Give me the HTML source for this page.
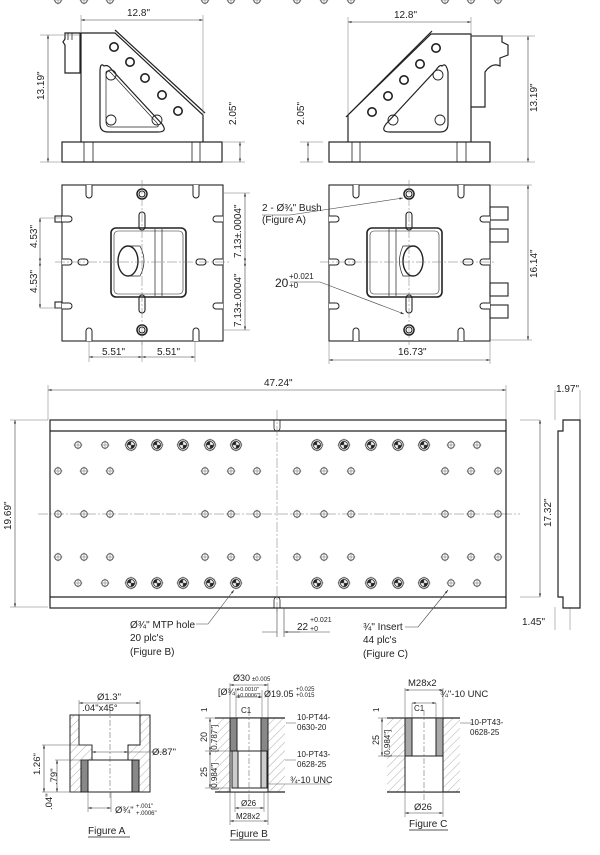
<!DOCTYPE html>
<html><head><meta charset="utf-8"><style>
html,body{margin:0;padding:0;background:#fff}
svg{display:block}
text{font-family:"Liberation Sans",Arial,sans-serif;fill:#222}
</style></head><body>
<svg width="600" height="855" viewBox="0 0 600 855" xmlns="http://www.w3.org/2000/svg">
<defs>
<marker id="a" viewBox="0 0 10 10" refX="10" refY="5" markerWidth="6" markerHeight="6" orient="auto-start-reverse"><path d="M0,2 L10,5 L0,8z" fill="#333"/></marker>
<pattern id="h" width="6" height="6" patternUnits="userSpaceOnUse" patternTransform="rotate(45)"><line x1="0" y1="0" x2="0" y2="6" stroke="#999" stroke-width="0.8"/></pattern>
<g id="sh"><circle r="3.3" fill="#fff" stroke="#444" stroke-width="0.9"/><path d="M-4.5,0H4.5M0,-4.5V4.5" stroke="#666" stroke-width="0.5"/></g>
<g id="bh"><circle r="5.3" fill="#fff" stroke="#444" stroke-width="0.9"/><circle r="3.6" fill="#fff" stroke="#333" stroke-width="0.9"/><path d="M0,0L3.6,0A3.6,3.6 0 0 1 0,3.6z M0,0L-3.6,0A3.6,3.6 0 0 1 0,-3.6z" fill="#222"/><path d="M-6.5,0H6.5M0,-6.5V6.5" stroke="#666" stroke-width="0.5"/></g>
<g id="dh"><circle r="4.2" fill="#fff" stroke="#222" stroke-width="1.6"/></g>
</defs>
<g fill="none" stroke="#222" stroke-width="1.2">
<rect x="62" y="142" width="160" height="20"/>
<path d="M84,142V162M93,142V162M192,142V162M200,142V162" stroke-width="0.8"/>
<path d="M81,142V33H115L203,115V142"/>
<path d="M115,30L205,113" />
<path d="M65,33H80V73H65V45l-2,-3 2,-3z"/>
<path d="M68,33V40M72,33V40" stroke-width="0.8"/>
<path d="M104,66Q100,62 100,72V124Q100,132 108,132H158Q168,132 162,124L112,70Q108,64 104,66z"/>
<path d="M106,72V122Q106,127 111,127H156Q160,127 157,123L113,75Q108,69 106,72z" stroke-width="0.7"/>
</g>
<use href="#dh" x="114" y="47"/><use href="#dh" x="130" y="62"/><use href="#dh" x="145" y="78"/><use href="#dh" x="162" y="95"/><use href="#dh" x="178" y="111"/>
<g fill="none" stroke="#222" stroke-width="0.9"><circle cx="111" cy="75" r="5"/><circle cx="111" cy="120" r="5"/><circle cx="157" cy="120" r="5"/></g>
<g fill="none" stroke="#222" stroke-width="1.2">
<rect x="329" y="142" width="161" height="20"/>
<path d="M352,142V162M360,142V162M457,142V162M466,142V162" stroke-width="0.8"/>
<path d="M348,142V115L431,34H471V142"/>
<path d="M346,117L432,31" />
<path d="M471,107H485V72Q492,62 500,66V58L508,55V45L502,42V36H471"/>
<path d="M442,66Q446,62 448,72V124Q448,132 440,132H390Q380,132 386,124L436,70Q440,64 442,66z"/>
</g>
<use href="#dh" x="436" y="48"/><use href="#dh" x="420" y="64"/><use href="#dh" x="404" y="80"/><use href="#dh" x="388" y="96"/><use href="#dh" x="372" y="112"/>
<g fill="none" stroke="#222" stroke-width="0.9"><circle cx="438" cy="75" r="5"/><circle cx="393" cy="120" r="5"/><circle cx="440" cy="120" r="5"/></g>
<g fill="none" stroke="#222" stroke-width="1.1">
<rect x="62" y="185" width="161" height="156"/>
<rect x="111" y="228" width="75" height="69" rx="5" stroke-width="1.6"/>
<rect x="114" y="231" width="69" height="63" rx="4" stroke-width="0.6"/>
<path d="M155,229V296M162,229V296" stroke-width="0.7"/>
<ellipse cx="128" cy="261" rx="10" ry="15" stroke-width="1.4"/>
<path d="M128,246H140Q148,261 140,276H128" stroke-width="0.7"/>
<rect x="139" y="212" width="6" height="18" rx="3"/><rect x="139" y="295" width="6" height="18" rx="3"/>
<rect x="78" y="259" width="10" height="6" rx="3"/><rect x="196" y="259" width="10" height="6" rx="3"/>
<circle cx="142" cy="194" r="5" stroke-width="1.5"/><circle cx="142" cy="194" r="3"/>
<circle cx="142" cy="330" r="5" stroke-width="1.5"/><circle cx="142" cy="330" r="3"/>
<rect x="55" y="216" width="7" height="6"/><rect x="55" y="302" width="7" height="6"/>
</g>
<g fill="#fff" stroke="#222" stroke-width="1">
<path d="M86,185V195a3,3 0 0 0 6,0V185M193,185V195a3,3 0 0 0 6,0V185M86,341V331a3,3 0 0 1 6,0V341M193,341V331a3,3 0 0 1 6,0V341"/>
<path d="M62,216H69a3,3 0 0 1 0,6H62M62,259H69a3,3 0 0 1 0,6H62M62,303H69a3,3 0 0 1 0,6H62M223,216H216a3,3 0 0 0 0,6H223M223,259H216a3,3 0 0 0 0,6H223M223,303H216a3,3 0 0 0 0,6H223"/>
</g>
<g fill="none" stroke="#222" stroke-width="1.1">
<rect x="329" y="185" width="161" height="156"/>
<rect x="367" y="228" width="75" height="69" rx="5" stroke-width="1.6"/>
<rect x="370" y="231" width="69" height="63" rx="4" stroke-width="0.6"/>
<path d="M389,229V296M396,229V296" stroke-width="0.7"/>
<ellipse cx="413" cy="261" rx="10" ry="15" stroke-width="1.4"/>
<path d="M413,246H403Q396,261 403,276H413" stroke-width="0.7"/>
<rect x="406" y="212" width="6" height="18" rx="3"/><rect x="406" y="295" width="6" height="18" rx="3"/>
<rect x="463" y="259" width="10" height="6" rx="3"/><rect x="345" y="259" width="10" height="6" rx="3"/>
<circle cx="409" cy="194" r="5" stroke-width="1.5"/><circle cx="409" cy="194" r="3"/>
<circle cx="409" cy="330" r="5" stroke-width="1.5"/><circle cx="409" cy="330" r="3"/>
<rect x="490" y="207" width="18" height="13"/><rect x="490" y="229" width="18" height="13"/>
<rect x="490" y="283" width="18" height="13"/><rect x="490" y="305" width="18" height="13"/>
</g>
<g fill="#fff" stroke="#222" stroke-width="1">
<path d="M353,185V195a3,3 0 0 0 6,0V185M458,185V195a3,3 0 0 0 6,0V185M353,341V331a3,3 0 0 1 6,0V341M458,341V331a3,3 0 0 1 6,0V341"/>
<path d="M329,216H336a3,3 0 0 1 0,6H329M329,259H336a3,3 0 0 1 0,6H329M329,303H336a3,3 0 0 1 0,6H329M490,216H483a3,3 0 0 0 0,6H490M490,259H483a3,3 0 0 0 0,6H490M490,303H483a3,3 0 0 0 0,6H490"/>
</g>
<g stroke="#777" stroke-width="0.5" stroke-dasharray="10,2,2,2" fill="none">
<path d="M142,180V345M55,262H230M409,180V345M320,262H495"/>
<path d="M38,514H520M277,410V612"/>
</g>
<g stroke="#777" stroke-width="0.5" fill="none">
<path d="M40,218H62M40,308H62M223,193H250M223,330H250M89,341V362M195,341V362M142,341V362"/>
<path d="M490,185H532M490,340H532M329,341V364M490,341V364"/>
<path d="M40,35H80M40,162H62M222,142H245M222,162H245M81,15V33M203,15V115"/>
<path d="M300,142H323M300,162H323M471,36H535M490,162H535M348,17V115M471,17V34"/>
<path d="M48,385V420M506,385V420M10,420H48M10,607H48M555,390V420M580,390V420M520,420H540M520,597H540M555,607V630M570,607V630"/>
</g>
<g stroke="#444" stroke-width="0.6" fill="none" marker-start="url(#a)" marker-end="url(#a)">
<path d="M81,20H203"/><path d="M48,35V162"/><path d="M240,142V162"/>
<path d="M348,22H471"/><path d="M528,36V162"/><path d="M308,142V162"/>
<path d="M40,218V262"/><path d="M40,262V308"/><path d="M245,193V262"/><path d="M245,262V330"/>
<path d="M89,357H142"/><path d="M142,357H195"/>
<path d="M528,185V340"/><path d="M329,360H490"/>
<path d="M48,390H506"/><path d="M15,420V607"/><path d="M540,420V597"/>
</g>
<g fill="none" stroke="#222" stroke-width="1.2">
<rect x="50" y="420" width="456" height="188"/>
<path d="M50,431H506M50,597H506"/>
<path d="M563,420H580V608H563V597H558V431H563z"/>
<path d="M274,420V428a3,3 0 0 0 6,0V420M274,608V600a3,3 0 0 1 6,0V608" stroke-width="0.8"/>
</g>
<g>
<use href="#sh" x="78" y="445"/><use href="#sh" x="105" y="445"/><use href="#bh" x="131" y="445"/><use href="#bh" x="157" y="445"/><use href="#bh" x="183" y="445"/><use href="#bh" x="210" y="445"/><use href="#bh" x="236" y="445"/>
<use href="#bh" x="317" y="445"/><use href="#bh" x="344" y="445"/><use href="#bh" x="371" y="445"/><use href="#bh" x="398" y="445"/><use href="#bh" x="424" y="445"/><use href="#sh" x="451" y="445"/><use href="#sh" x="477" y="445"/>
<use href="#sh" x="78" y="583"/><use href="#sh" x="105" y="583"/><use href="#bh" x="131" y="583"/><use href="#bh" x="157" y="583"/><use href="#bh" x="183" y="583"/><use href="#bh" x="210" y="583"/><use href="#bh" x="236" y="583"/>
<use href="#bh" x="317" y="583"/><use href="#bh" x="344" y="583"/><use href="#bh" x="371" y="583"/><use href="#bh" x="398" y="583"/><use href="#bh" x="424" y="583"/><use href="#sh" x="451" y="583"/><use href="#sh" x="477" y="583"/>
<g id="r2"><use href="#sh" x="58" y="0"/><use href="#sh" x="84" y="0"/><use href="#sh" x="110" y="0"/><use href="#sh" x="205" y="0"/><use href="#sh" x="231" y="0"/><use href="#sh" x="257" y="0"/><use href="#sh" x="297" y="0"/><use href="#sh" x="324" y="0"/><use href="#sh" x="351" y="0"/><use href="#sh" x="445" y="0"/><use href="#sh" x="471" y="0"/><use href="#sh" x="498" y="0"/></g>
</g>
<use href="#r2" x="0" y="471"/><use href="#r2" x="0" y="514"/><use href="#r2" x="0" y="557"/>
<g stroke="#444" stroke-width="0.6" fill="none">
<path d="M196,624H208L234,590" marker-end="url(#a)"/>
<path d="M405,627H418L448,590" marker-end="url(#a)"/>
<path d="M288,632H330M277,608V637M284,608V637"/>
<path d="M262,215H290L403,198" marker-end="url(#a)"/>
<path d="M290,282H320L404,314" marker-end="url(#a)"/>
</g>
<path d="M262,632H277M300,632H284" stroke="#444" stroke-width="0.6" marker-end="url(#a)"/>
<g font-size="10">
<text x="127" y="16">12.8"</text><text x="394" y="18">12.8"</text>
<text transform="translate(44,100) rotate(-90)">13.19"</text>
<text transform="translate(236,125) rotate(-90)">2.05"</text>
<text transform="translate(304,125) rotate(-90)">2.05"</text>
<text transform="translate(537,112) rotate(-90)">13.19"</text>
<text transform="translate(37,248) rotate(-90)">4.53"</text>
<text transform="translate(37,293) rotate(-90)">4.53"</text>
<text transform="translate(241,258) rotate(-90)">7.13±.0004"</text>
<text transform="translate(241,327) rotate(-90)">7.13±.0004"</text>
<text x="102" y="355">5.51"</text><text x="157" y="355">5.51"</text>
<text x="262" y="211">2 - Ø¾" Bush</text><text x="262" y="223">(Figure A)</text>
<text x="275" y="287" font-size="12">20</text><text x="289" y="279" font-size="8">+0.021</text><text x="289" y="288" font-size="8">+0</text>
<text transform="translate(537,278) rotate(-90)">16.14"</text>
<text x="398" y="355">16.73"</text>
<text x="264" y="386">47.24"</text>
<text transform="translate(11,530) rotate(-90)">19.69"</text>
<text x="556" y="392">1.97"</text>
<text transform="translate(551,527) rotate(-90)">17.32"</text>
<text x="522" y="625">1.45"</text>
<text x="130" y="628">Ø¾" MTP hole</text><text x="130" y="641">20 plc's</text><text x="130" y="655">(Figure B)</text>
<text x="297" y="630">22</text><text x="310" y="622" font-size="7">+0.021</text><text x="310" y="631" font-size="7">+0</text>
<text x="363" y="630">¾" Insert</text><text x="363" y="643">44 plc's</text><text x="363" y="657">(Figure C)</text>
</g>
<g stroke="#222" stroke-width="1">
<path d="M70,715H150V792H70z" fill="url(#h)"/>
<path d="M79,715H140V745H128V760H132V792H88V760H92V745H79z" fill="#fff"/>
<rect x="81" y="760" width="7" height="32" fill="#888"/><rect x="132" y="760" width="7" height="32" fill="#888"/>
<rect x="88" y="760" width="44" height="32" fill="#fff"/>
</g>
<g stroke="#555" stroke-width="0.5" fill="none">
<path d="M110,708V800" stroke-dasharray="6,2,2,2"/>
<path d="M42,745H92M55,760H88M42,792H80M128,752H165M88,792V812M111,792V812M79,700V715M140,700V715"/>
</g>
<g stroke="#444" stroke-width="0.6" fill="none" marker-start="url(#a)" marker-end="url(#a)">
<path d="M79,703H140"/><path d="M44,745V792"/><path d="M57,760V792"/><path d="M92,752H128"/><path d="M88,808H111"/>
</g>
<g font-size="9.5">
<text x="97" y="700">Ø1.3"</text><text x="82" y="711">.04"x45°</text><text x="152" y="755">Ø.87"</text>
<text transform="translate(40,775) rotate(-90)">1.26"</text><text transform="translate(57,785) rotate(-90)">.79"</text>
<text transform="translate(52,810) rotate(-90)">.04"</text>
<text x="115" y="813">Ø¾"</text><text x="136" y="808" font-size="6">+.001"</text><text x="136" y="815" font-size="6">+.0006"</text>
<text x="88" y="834" font-size="10">Figure A</text>
</g>
<path d="M88,837H130" stroke="#555" stroke-width="1"/>
<g stroke="#222" stroke-width="1">
<rect x="215" y="718" width="70" height="74" fill="url(#h)" stroke="none"/>
<path d="M215,718H285M215,792H285" stroke-width="1.2"/>
<rect x="230" y="718" width="38" height="74" fill="#fff"/>
<rect x="230" y="718" width="7" height="33" fill="#888"/><rect x="261" y="718" width="7" height="33" fill="#888"/>
<rect x="232" y="751" width="6" height="37" fill="#ccc"/><rect x="261" y="751" width="6" height="37" fill="#ccc"/>
<path d="M230,751H268M232,788H267"/>
</g>
<g stroke="#555" stroke-width="0.5" fill="none">
<path d="M249,710V800" stroke-dasharray="6,2,2,2"/>
<path d="M230,683V718M268,683V718M236,690V718M262,690V718M205,718H230M205,751H230M205,788H230M230,792V825M268,792V825M235,792V812M264,792V812"/>
<path d="M286,723H296M285,760H296M267,784H330"/>
</g>
<g stroke="#444" stroke-width="0.6" fill="none" marker-start="url(#a)" marker-end="url(#a)">
<path d="M230,685H268"/><path d="M236,697H262"/><path d="M210,718V751"/><path d="M210,751V788"/><path d="M235,808H264"/><path d="M230,821H268"/>
</g>
<g font-size="8">
<text x="233" y="681" font-size="9">Ø30</text><text x="252" y="681" font-size="6">±0.005</text>
<text x="218" y="695" font-size="9">[Ø¾"</text><text x="237" y="691" font-size="5.5">+0.0010"</text><text x="237" y="697" font-size="5.5">+0.0006"]</text>
<text x="264" y="697" font-size="9">Ø19.05</text><text x="296" y="691" font-size="6">+0.025</text><text x="296" y="697" font-size="6">+0.015</text>
<text x="241" y="713">C1</text>
<text transform="translate(207,712) rotate(-90)">1</text>
<text transform="translate(207,742) rotate(-90)" font-size="9">20</text>
<text transform="translate(217,752) rotate(-90)">[0.787"]</text>
<text transform="translate(207,777) rotate(-90)" font-size="9">25</text>
<text transform="translate(217,790) rotate(-90)">[0.984"]</text>
<text x="297" y="720">10-PT44-</text><text x="297" y="730">0630-20</text>
<text x="297" y="757">10-PT43-</text><text x="297" y="767">0628-25</text>
<text x="290" y="783" font-size="9">¾-10 UNC</text>
<text x="241" y="806">Ø26</text><text x="236" y="819">M28x2</text>
<text x="230" y="837" font-size="10">Figure B</text>
</g>
<path d="M230,840H270" stroke="#555" stroke-width="1"/>
<g stroke="#222" stroke-width="1">
<rect x="387" y="718" width="73" height="74" fill="url(#h)" stroke="none"/>
<path d="M387,718H460M387,792H460" stroke-width="1.2"/>
<rect x="405" y="718" width="38" height="74" fill="#fff"/>
<rect x="405" y="718" width="7" height="38" fill="#aaa"/><rect x="436" y="718" width="7" height="38" fill="#aaa"/>
<path d="M405,756H443"/>
</g>
<g stroke="#555" stroke-width="0.5" fill="none">
<path d="M424,710V800" stroke-dasharray="6,2,2,2"/>
<path d="M405,688V718M443,688V718M412,703V718M436,703V718M378,718H405M378,756H405M405,792V817M443,792V817M460,723H472"/>
</g>
<g stroke="#444" stroke-width="0.6" fill="none" marker-start="url(#a)" marker-end="url(#a)">
<path d="M405,690H443"/><path d="M412,703H436"/><path d="M382,718V756"/><path d="M405,813H443"/>
</g>
<g font-size="8">
<text x="408" y="686" font-size="9.5">M28x2</text>
<text x="440" y="697" font-size="9.5">¾"-10 UNC</text>
<text x="414" y="711">C1</text>
<text transform="translate(379,712) rotate(-90)">1</text>
<text transform="translate(379,745) rotate(-90)" font-size="9">25</text>
<text transform="translate(390,757) rotate(-90)">[0.984"]</text>
<text x="470" y="725">10-PT43-</text><text x="470" y="735">0628-25</text>
<text x="414" y="810" font-size="9.5">Ø26</text>
<text x="409" y="827" font-size="10">Figure C</text>
</g>
<path d="M409,830H448" stroke="#555" stroke-width="1"/>
</svg>
</body></html>
